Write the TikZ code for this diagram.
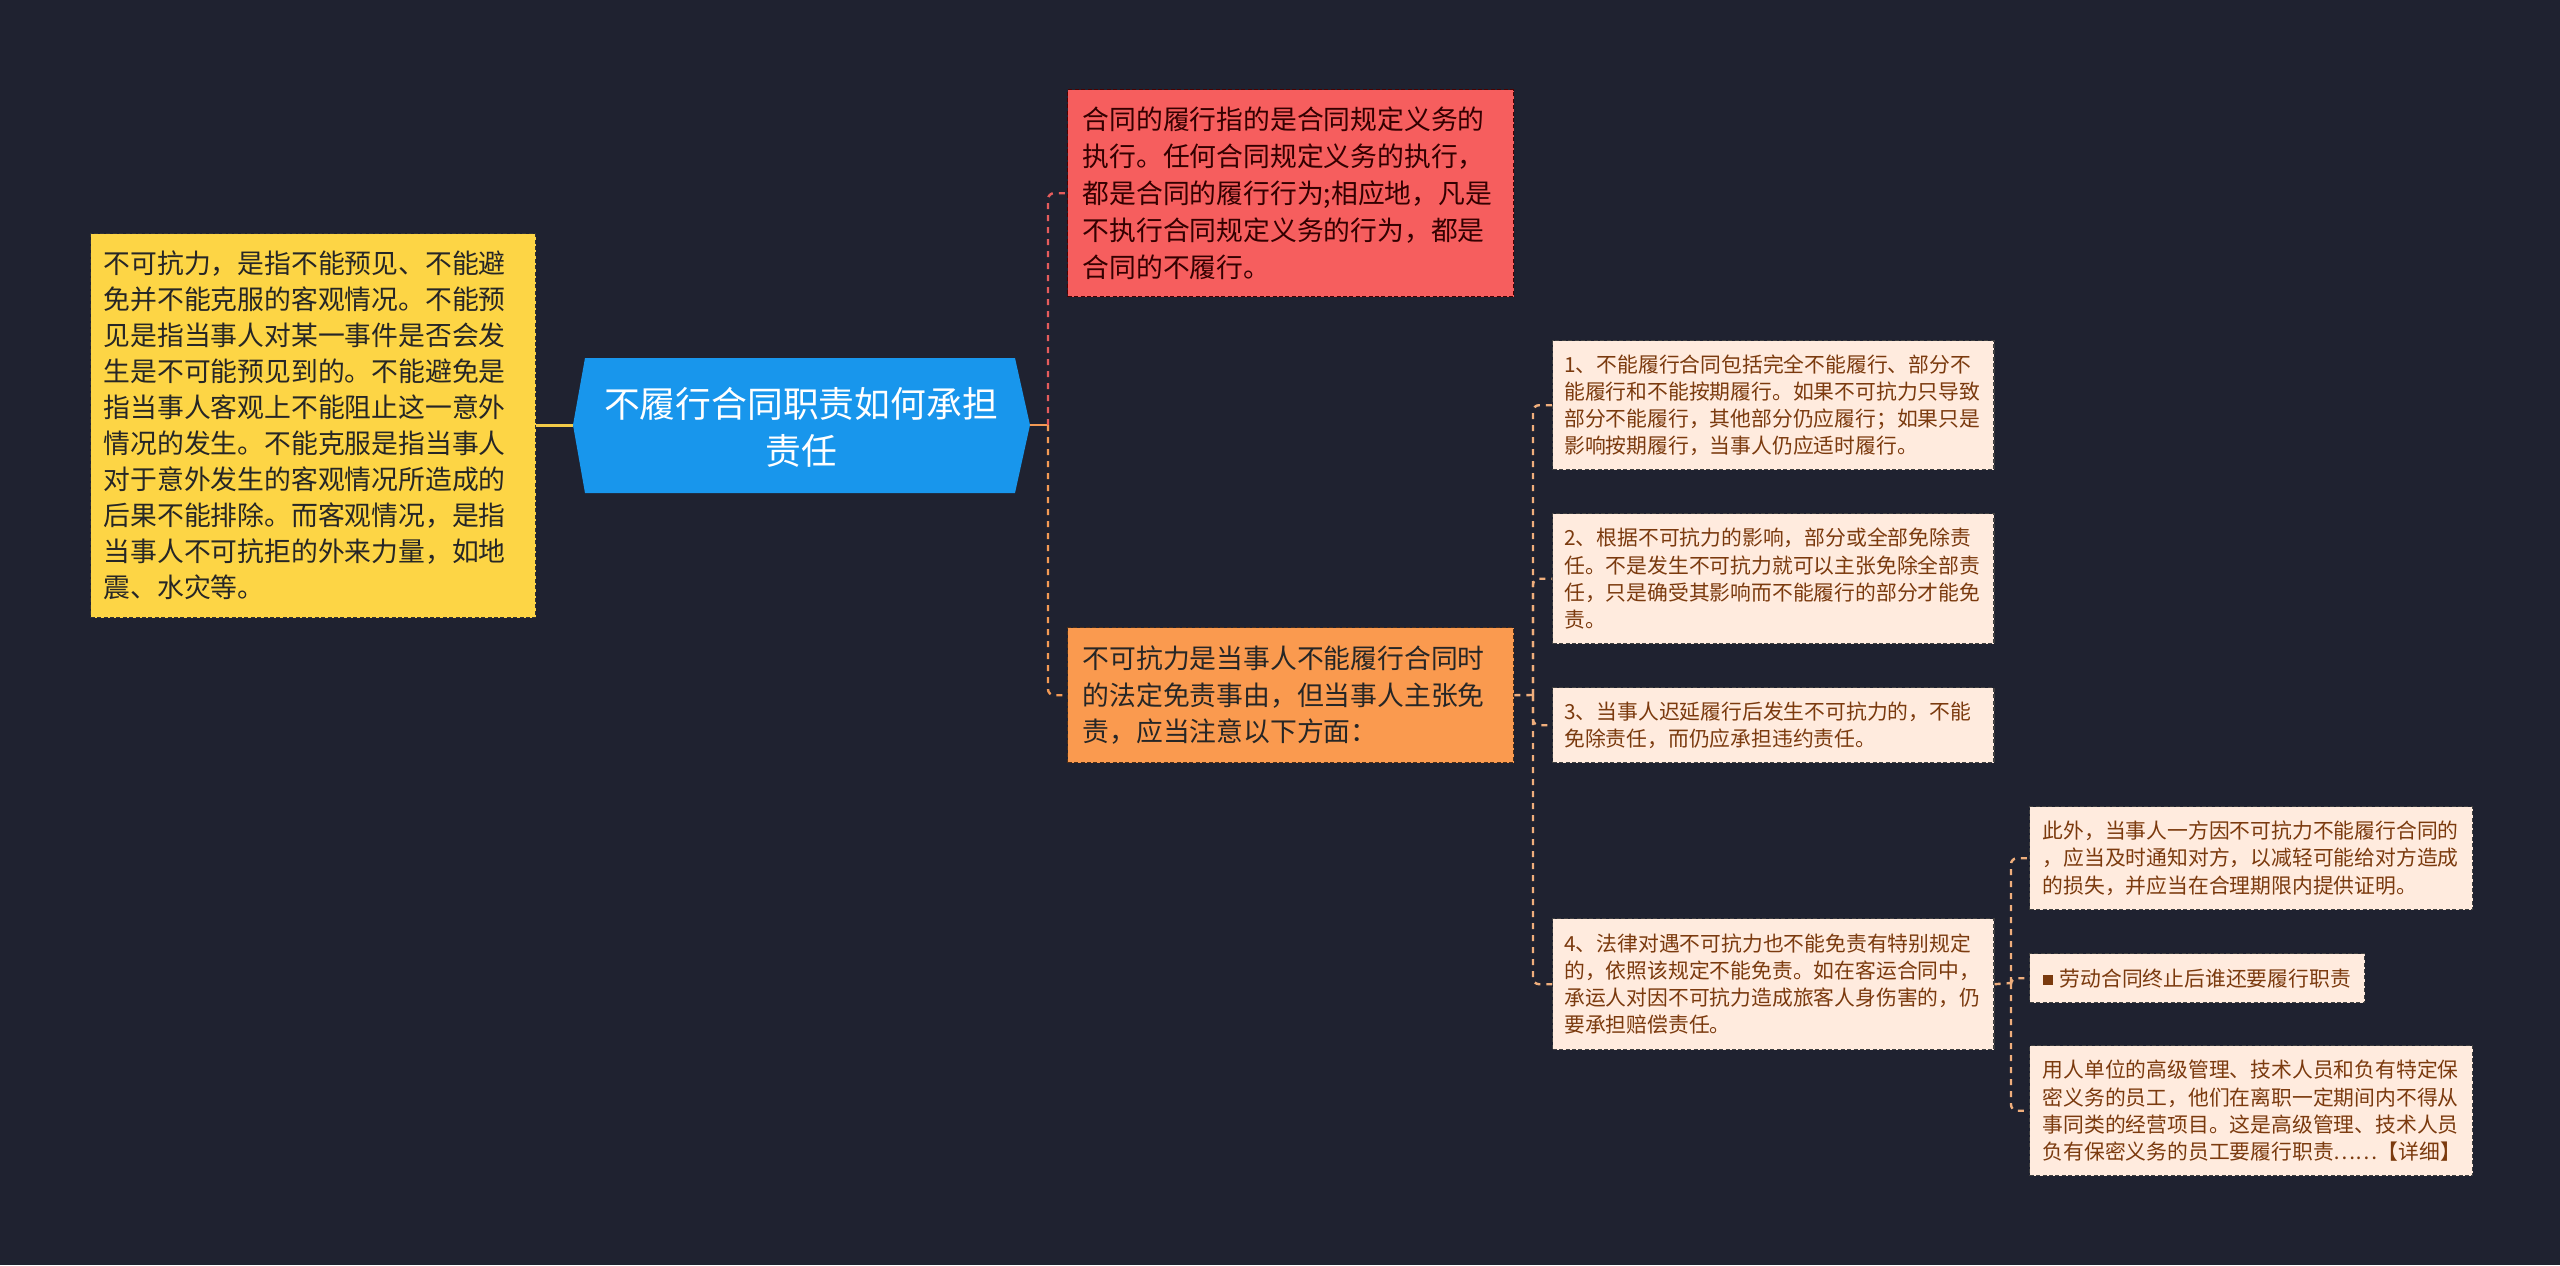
\documentclass[tikz,border=0pt]{standalone}
\usepackage{fontspec}
\setmainfont{Noto Sans CJK SC}
\definecolor{bgc}{HTML}{1F2230}
\definecolor{yel}{HTML}{FDD545}
\definecolor{redb}{HTML}{F65E5E}
\definecolor{orgb}{HTML}{FA9A4F}
\definecolor{blu}{HTML}{1896EC}
\definecolor{pch}{HTML}{FFEBDE}
\definecolor{brn}{HTML}{7B3A0E}
\definecolor{ylin}{HTML}{F2CB48}
\definecolor{rlin}{HTML}{E45C5C}
\definecolor{olin}{HTML}{F39A55}
\definecolor{plin}{HTML}{EFAE7C}
\begin{document}
\begin{tikzpicture}[x=0.5pt,y=-0.5pt,
  boxbase/.style={anchor=north west, align=left, inner ysep=0pt, line width=0.7pt, dash pattern=on 2pt off 1.2pt},
  bigbox/.style={boxbase, inner xsep=7.5pt, text width=208pt, font=\fontsize{13.4pt}{18.2pt}\selectfont},
  smallbox/.style={boxbase, fill=pch, draw=black!75, text=brn, inner xsep=5.8pt, text width=209pt, font=\fontsize{10.4pt}{13.6pt}\selectfont},
  conn/.style={line width=1.2pt, dash pattern=on 3pt off 3pt, rounded corners=3pt},
]
\useasboundingbox[fill=bgc] (0,0) rectangle (2560,1265);

% left yellow box
\node[boxbase, fill=yel, draw=black!80, text=black!85, inner xsep=6.5pt, text width=209.5pt,
  minimum height=192pt, font=\fontsize{13.4pt}{18pt}\selectfont] (L) at (90,233)
{不可抗力，是指不能预见、不能避\\
免并不能克服的客观情况。不能预\\
见是指当事人对某一事件是否会发\\
生是不可能预见到的。不能避免是\\
指当事人客观上不能阻止这一意外\\
情况的发生。不能克服是指当事人\\
对于意外发生的客观情况所造成的\\
后果不能排除。而客观情况，是指\\
当事人不可抗拒的外来力量，如地\\
震、水灾等。};

% center hexagon
\fill[blu] (573,425) -- (585,358) -- (1015,358) -- (1030,425) -- (1015,493) -- (585,493) -- cycle;
\coordinate (Cw) at (573,425);
\coordinate (Ce) at (1030,425);
\node[text=white, align=center, font=\fontsize{17.9pt}{23.5pt}\selectfont] (C) at (801,427)
{不履行合同职责如何承担\\责任};

% red box
\node[bigbox, fill=redb, draw=black!70!red, text=black!80!red, minimum height=103.5pt,
  font=\fontsize{13.4pt}{18.5pt}\selectfont] (R) at (1067,89)
{合同的履行指的是合同规定义务的\\
执行。任何合同规定义务的执行，\\
都是合同的履行行为;相应地，凡是\\
不执行合同规定义务的行为，都是\\
合同的不履行。};

% orange box
\node[bigbox, fill=orgb, draw=black!70!orgb, text=black!85, minimum height=67.5pt] (O) at (1067,627)
{不可抗力是当事人不能履行合同时\\
的法定免责事由，但当事人主张免\\
责，应当注意以下方面：};

% small boxes
\node[smallbox, minimum height=64.5pt] (S1) at (1552,340)
{1、不能履行合同包括完全不能履行、部分不\\
能履行和不能按期履行。如果不可抗力只导致\\
部分不能履行，其他部分仍应履行；如果只是\\
影响按期履行，当事人仍应适时履行。};

\node[smallbox, minimum height=65pt] (S2) at (1552,513)
{2、根据不可抗力的影响，部分或全部免除责\\
任。不是发生不可抗力就可以主张免除全部责\\
任，只是确受其影响而不能履行的部分才能免\\
责。};

\node[smallbox, minimum height=37.5pt] (S3) at (1552,687)
{3、当事人迟延履行后发生不可抗力的，不能\\
免除责任，而仍应承担违约责任。};

\node[smallbox, minimum height=65.5pt] (S4) at (1552,918)
{4、法律对遇不可抗力也不能免责有特别规定\\
的，依照该规定不能免责。如在客运合同中，\\
承运人对因不可抗力造成旅客人身伤害的，仍\\
要承担赔偿责任。};

\node[smallbox, inner xsep=6.5pt, text width=208.5pt, minimum height=51.5pt] (A) at (2029,806)
{此外，当事人一方因不可抗力不能履行合同的\\
，应当及时通知对方，以减轻可能给对方造成\\
的损失，并应当在合理期限内提供证明。};

\node[smallbox, inner xsep=6.5pt, text width=154.5pt, minimum height=24.5pt] (B) at (2029,953)
{\textcolor{brn}{\rule[0.8pt]{5pt}{5pt}}\hspace{3.5pt}劳动合同终止后谁还要履行职责};

\node[smallbox, inner xsep=6.5pt, text width=208.5pt, minimum height=65pt] (Cc) at (2029,1045)
{用人单位的高级管理、技术人员和负有特定保\\
密义务的员工，他们在离职一定期间内不得从\\
事同类的经营项目。这是高级管理、技术人员\\
负有保密义务的员工要履行职责……【详细】};

% connectors
\draw[ylin, line width=1.5pt] (L.east |- Cw) -- (Cw);
\coordinate (s1) at (1048,425);
\draw[olin, line width=1.3pt] (Ce) -- (s1);
\draw[conn, rlin] (s1) |- (R.west);
\draw[conn, olin] (s1) |- (O.west);

\coordinate (s2) at (1533,695);
\draw[conn, plin] (O.east) -- (s2);
\draw[conn, plin] (s2) |- (S1.west);
\draw[conn, plin] (s2) |- (S2.west);
\draw[conn, plin] (s2) |- (S3.west);
\draw[conn, plin] (s2) |- (S4.west);

\coordinate (s3) at (2011,983);
\draw[conn, plin] (S4.east) -- (s3);
\draw[conn, plin] (s3) |- (A.west);
\draw[conn, plin] (s3) |- (B.west);
\draw[conn, plin] (s3) |- (Cc.west);
\end{tikzpicture}
\end{document}
